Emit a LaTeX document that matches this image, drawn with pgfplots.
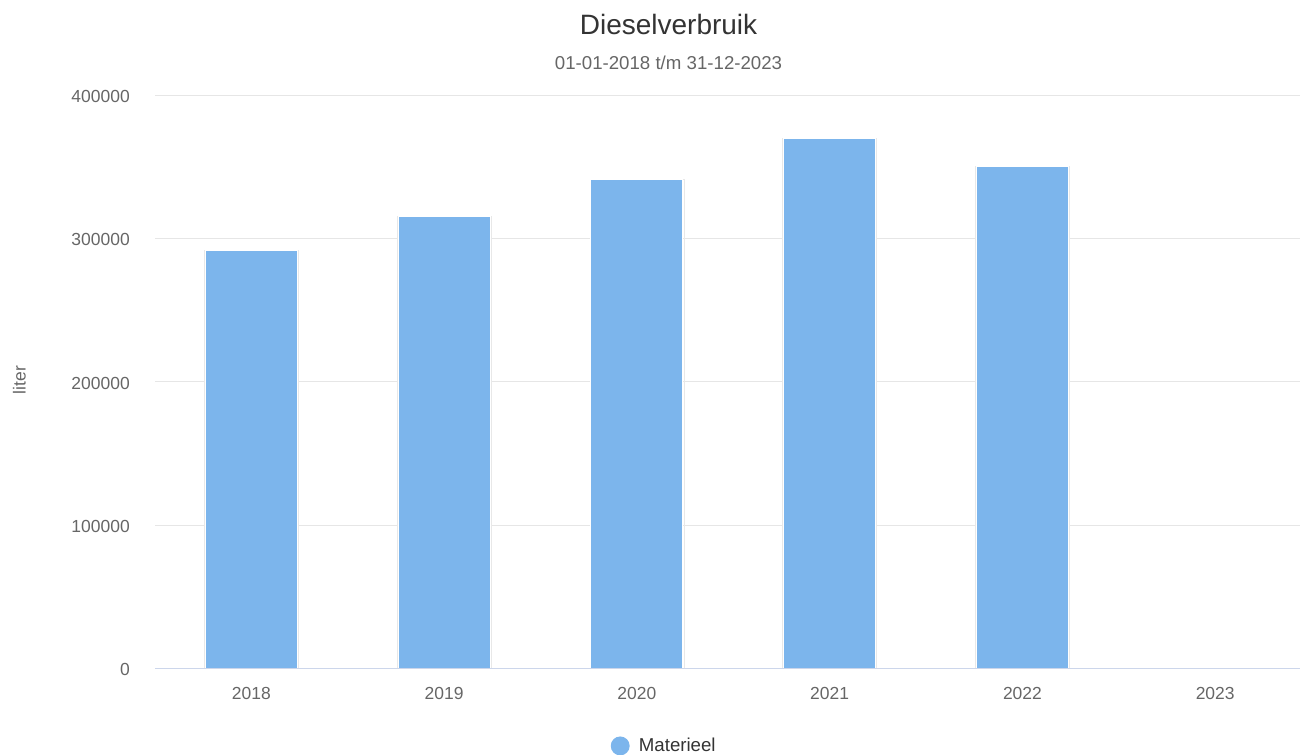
\documentclass[border=0pt]{standalone}
\usepackage{pgfplots}
\pgfplotsset{compat=1.18}
\usepackage{fontspec}
\setmainfont{Liberation Sans}

\definecolor{barblue}{HTML}{7CB5EC}
\definecolor{gridgray}{HTML}{E6E6E6}
\definecolor{axisline}{HTML}{CCD6EB}
\definecolor{ticktext}{HTML}{666666}
\definecolor{titletext}{HTML}{333333}

% diesel use per year (liter)
\pgfplotstableread{
x year value
0 2018 291300
1 2019 315600
2 2020 341300
3 2021 369700
4 2022 350400
5 2023 0
}\diesel

\begin{document}
\begin{tikzpicture}
\path[use as bounding box] (0,0) rectangle (975pt,565.5pt);

\node[anchor=base, text=titletext, font=\fontsize{21}{24}\selectfont] at (501.4pt,539.25pt) {Dieselverbruik};
\node[anchor=base, text=ticktext, font=\fontsize{14}{16}\selectfont] at (501.4pt,513pt) {01-01-2018 t/m 31-12-2023};
\node[rotate=90, text=ticktext, font=\fontsize{13.1}{15}\selectfont] at (14.6pt,280.5pt) {liter};

\begin{axis}[
    at={(116.25pt,64.125pt)}, anchor=south west,
    scale only axis, width=858.75pt, height=430.125pt,
    xmin=-0.5, xmax=5.44, ymin=0, ymax=400000,
    axis line style={draw=none},
    tick style={draw=none},
    scaled y ticks=false,
    xtick={0,1,2,3,4,5},
    xticklabels={2018,2019,2020,2021,2022,2023},
    ytick={0,100000,200000,300000,400000},
    yticklabels={0,100000,200000,300000,400000},
    ymajorgrids,
    grid style={gridgray, line width=0.75pt},
    xticklabel style={anchor=base, inner sep=0pt, yshift=-23.1pt,
        text=ticktext, font=\fontsize{13.1}{15}\selectfont},
    yticklabel style={anchor=base east, inner sep=0pt, xshift=-18.75pt, yshift=-5.6pt,
        text=ticktext, font=\fontsize{13.1}{15}\selectfont},
    legend style={at={(axis description cs:0.445,-0.135)}, anchor=center,
        draw=none, fill=none, inner sep=0pt, text=titletext,
        font=\fontsize{14}{16}\selectfont},
    legend image code/.code={
        \fill[barblue, draw=none] (0pt,0pt) circle (7.1pt);
        \path[draw=none, fill=none] (-7.1pt,0pt) rectangle (12pt,0.1pt);},
]
\addplot[ybar, bar shift=0pt, bar width=70.5pt, fill=none, draw=black!9,
    line width=0.6pt, forget plot] table[x=x, y=value] {\diesel};
\addplot[ybar, bar shift=0pt, bar width=69pt, fill=barblue, draw=white,
    line width=0.75pt] table[x=x, y=value] {\diesel};
\addlegendentry{Materieel}
\draw[axisline, line width=0.75pt] (axis cs:-0.5,0) -- (axis cs:5.44,0);
\end{axis}
\end{tikzpicture}
\end{document}
